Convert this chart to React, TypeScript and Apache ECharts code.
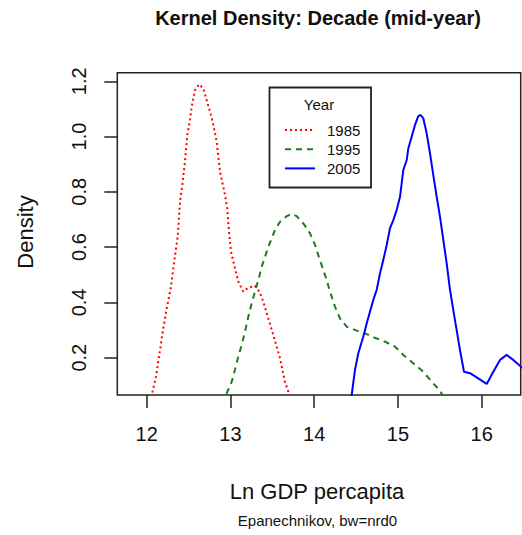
import React, { useEffect, useRef } from "react";
import * as echarts from "echarts";

// Kernel density estimates of ln GDP per capita, one curve per decade mid-year
const lnGdp1985 = [12.045, 12.06, 12.111, 12.159, 12.198, 12.231, 12.29, 12.318, 12.35, 12.37, 12.398, 12.425, 12.457, 12.485, 12.517, 12.537, 12.577, 12.625, 12.676, 12.716, 12.756, 12.788, 12.836, 12.875, 12.936, 12.962, 12.986, 13.007, 13.054, 13.094, 13.153, 13.213, 13.293, 13.345, 13.392, 13.452, 13.512, 13.592, 13.651, 13.691, 13.72];
const density1985 = [0.02, 0.065, 0.131, 0.228, 0.306, 0.366, 0.457, 0.523, 0.596, 0.638, 0.764, 0.825, 0.909, 1.005, 1.06, 1.108, 1.168, 1.189, 1.174, 1.132, 1.09, 1.054, 0.981, 0.873, 0.788, 0.74, 0.644, 0.583, 0.523, 0.475, 0.439, 0.453, 0.46, 0.439, 0.403, 0.342, 0.282, 0.198, 0.113, 0.077, 0.04];

const lnGdp1995 = [12.93, 12.955, 13.015, 13.054, 13.094, 13.134, 13.174, 13.213, 13.254, 13.293, 13.333, 13.373, 13.413, 13.452, 13.493, 13.532, 13.592, 13.672, 13.731, 13.791, 13.87, 13.95, 14.01, 14.049, 14.109, 14.149, 14.189, 14.249, 14.308, 14.388, 14.508, 14.607, 14.706, 14.845, 14.965, 15.064, 15.183, 15.303, 15.422, 15.502, 15.56];
const density1995 = [0.03, 0.071, 0.113, 0.156, 0.204, 0.246, 0.294, 0.348, 0.397, 0.439, 0.481, 0.529, 0.565, 0.601, 0.632, 0.662, 0.692, 0.712, 0.72, 0.712, 0.686, 0.65, 0.608, 0.571, 0.517, 0.481, 0.439, 0.384, 0.342, 0.312, 0.298, 0.288, 0.274, 0.258, 0.24, 0.21, 0.18, 0.149, 0.107, 0.081, 0.05];

const lnGdp2005 = [14.43, 14.448, 14.487, 14.527, 14.586, 14.627, 14.666, 14.706, 14.746, 14.786, 14.825, 14.866, 14.905, 14.945, 14.985, 15.025, 15.064, 15.105, 15.124, 15.164, 15.204, 15.243, 15.272, 15.303, 15.343, 15.383, 15.422, 15.463, 15.502, 15.544, 15.582, 15.622, 15.681, 15.741, 15.789, 15.861, 15.959, 16.06, 16.139, 16.219, 16.299, 16.377, 16.478, 16.55];
const density2005 = [0.02, 0.065, 0.156, 0.216, 0.276, 0.324, 0.366, 0.409, 0.445, 0.505, 0.553, 0.608, 0.668, 0.698, 0.734, 0.782, 0.879, 0.915, 0.957, 0.999, 1.042, 1.074, 1.078, 1.066, 1.012, 0.939, 0.861, 0.782, 0.71, 0.622, 0.541, 0.445, 0.336, 0.228, 0.149, 0.144, 0.125, 0.105, 0.149, 0.192, 0.21, 0.192, 0.165, 0.15];

const years = ["1985", "1995", "2005"];
const xTicks = [12, 13, 14, 15, 16];
const yTicks = [0.2, 0.4, 0.6, 0.8, 1.0, 1.2];

const X_MIN = 11.649;
const X_MAX = 16.466;
const Y_MIN = 0.065;
const Y_MAX = 1.231;

const FONT = "'Liberation Sans', Arial, Helvetica, sans-serif";
const INK = "#111";

const RED = "#ff0000";
const GREEN = "#1f7a1f";
const BLUE = "#0000ff";

const zip = (xs: number[], ys: number[]) => xs.map((x, i) => [x, ys[i]]);

export default function App() {
  const ref = useRef<HTMLDivElement>(null);

  useEffect(() => {
    if (!ref.current) return;
    const chart = echarts.init(ref.current, null, { renderer: "svg" });

    const lineStyles = [
      { color: RED, width: 2, type: [2, 3] as number[] },
      { color: GREEN, width: 2, type: [6, 5] as number[] },
      { color: BLUE, width: 2, type: "solid" as const },
    ];
    const curves = [
      zip(lnGdp1985, density1985),
      zip(lnGdp1995, density1995),
      zip(lnGdp2005, density2005),
    ];

    // legend box drawn by hand (R-style legend with a title)
    const legendRows = years.map((yr, i) => {
      const cy = 130 + i * 19.2;
      const ls = lineStyles[i];
      return [
        {
          type: "line",
          shape: { x1: 285, y1: cy, x2: 315, y2: cy },
          style: {
            stroke: ls.color,
            lineWidth: 2,
            lineDash: Array.isArray(ls.type) ? ls.type : null,
          },
        },
        {
          type: "text",
          x: 327,
          y: cy,
          style: {
            text: yr,
            font: `15px ${FONT}`,
            fill: INK,
            textAlign: "left",
            textVerticalAlign: "middle",
          },
        },
      ];
    }).flat();

    chart.setOption({
      animation: false,
      backgroundColor: "#fff",
      grid: {
        left: 117.3,
        top: 72.7,
        width: 403.4,
        height: 322.3,
        show: true,
        borderColor: "#222",
        borderWidth: 1.5,
        backgroundColor: "transparent",
        containLabel: false,
      },
      xAxis: {
        type: "value",
        min: X_MIN,
        max: X_MAX,
        axisLine: { show: false },
        splitLine: { show: false },
        axisTick: {
          show: true,
          inside: false,
          length: 13,
          lineStyle: { color: "#222", width: 1.5 },
          customValues: xTicks,
        },
        axisLabel: {
          customValues: xTicks,
          margin: 29,
          fontSize: 20,
          fontFamily: FONT,
          color: INK,
          formatter: (v: number) => String(v),
        },
      },
      yAxis: {
        type: "value",
        min: Y_MIN,
        max: Y_MAX,
        axisLine: { show: false },
        splitLine: { show: false },
        axisTick: {
          show: true,
          inside: false,
          length: 13,
          lineStyle: { color: "#222", width: 1.5 },
          customValues: yTicks,
        },
        axisLabel: {
          customValues: yTicks,
          rotate: 90,
          margin: 28,
          fontSize: 20,
          fontFamily: FONT,
          color: INK,
          formatter: (v: number) => v.toFixed(1),
        },
      },
      series: curves.map((data, i) => ({
        type: "line",
        name: years[i],
        data,
        symbol: "none",
        smooth: false,
        clip: true,
        lineStyle: lineStyles[i],
      })),
      graphic: [
        {
          type: "text",
          x: 318,
          y: 18,
          style: {
            text: "Kernel Density: Decade (mid-year)",
            font: `bold 20px ${FONT}`,
            fill: INK,
            textAlign: "center",
            textVerticalAlign: "middle",
          },
        },
        {
          type: "text",
          x: 317,
          y: 491,
          style: {
            text: "Ln GDP percapita",
            font: `22px ${FONT}`,
            fill: INK,
            textAlign: "center",
            textVerticalAlign: "middle",
          },
        },
        {
          type: "text",
          x: 317.5,
          y: 520,
          style: {
            text: "Epanechnikov, bw=nrd0",
            font: `15px ${FONT}`,
            fill: INK,
            textAlign: "center",
            textVerticalAlign: "middle",
          },
        },
        {
          type: "text",
          x: 25,
          y: 232,
          rotation: Math.PI / 2,
          style: {
            text: "Density",
            font: `22px ${FONT}`,
            fill: INK,
            textAlign: "center",
            textVerticalAlign: "middle",
          },
        },
        {
          type: "rect",
          shape: { x: 269.5, y: 87.5, width: 101.5, height: 100 },
          style: { fill: "#fff", stroke: "#222", lineWidth: 1.8 },
        },
        {
          type: "text",
          x: 319,
          y: 104,
          style: {
            text: "Year",
            font: `15px ${FONT}`,
            fill: INK,
            textAlign: "center",
            textVerticalAlign: "middle",
          },
        },
        ...legendRows,
      ],
    });

    return () => chart.dispose();
  }, []);

  return <div ref={ref} style={{ width: 522, height: 535, position: "absolute", left: 0, top: 0 }} />;
}
